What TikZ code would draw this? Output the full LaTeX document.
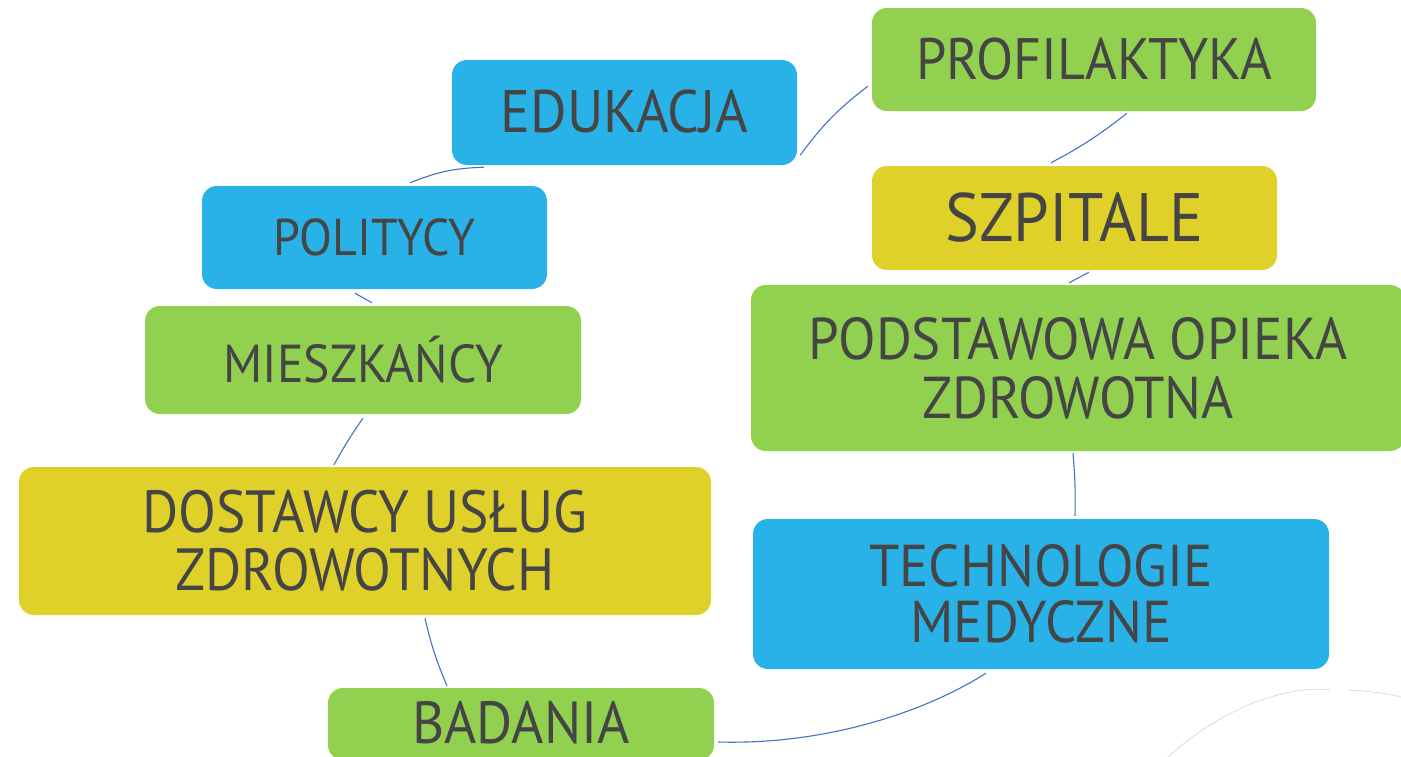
\documentclass[tikz,border=0pt]{standalone}
\usepackage{fontspec}
\setmainfont[FakeStretch=0.93]{PT Sans}
\usetikzlibrary{calc}
\definecolor{cyanbox}{HTML}{29B2E7}
\definecolor{greenbox}{HTML}{92D150}
\definecolor{yellowbox}{HTML}{E0D12A}
\definecolor{txt}{HTML}{454545}
\definecolor{conn}{HTML}{4472C4}
\definecolor{faint}{HTML}{DCDCDC}
\tikzset{
  box/.style={rounded corners=15pt, inner sep=0pt, align=center, text=txt},
  link/.style={draw=conn, line width=1.1pt},
}
\newcommand{\fs}[2]{\fontsize{#1}{#2}\selectfont}
\begin{document}
\begin{tikzpicture}[x=1pt,y=-1pt]
\useasboundingbox[fill=white] (0,0) rectangle (1401,756);
\node[box, fill=cyanbox, minimum width=345pt, minimum height=105pt, font=\fs{60}{59}] (edu) at (624.5,112.5) {\raisebox{2pt}{EDUKACJA}};
\node[box, fill=greenbox, minimum width=444pt, minimum height=103pt, font=\fs{58.4}{59}] (prof) at (1094,59.5) {PROFILAKTYKA};
\node[box, fill=cyanbox, minimum width=345pt, minimum height=103pt, font=\fs{51.7}{59}] (pol) at (374.5,237.5) {POLITYCY};
\node[box, fill=yellowbox, minimum width=405pt, minimum height=104pt, font=\fs{68.5}{59}] (szp) at (1074.5,218) {\raisebox{2pt}{SZPITALE}};
\node[box, fill=greenbox, minimum width=436pt, minimum height=108pt, font=\fs{53.4}{59}] (mie) at (363,360) {MIESZKAŃCY};
\node[box, fill=greenbox, minimum width=654pt, minimum height=166pt, font=\fs{59}{59}] (poz) at (1078,368) {PODSTAWOWA OPIEKA\\ZDROWOTNA};
\node[box, fill=yellowbox, minimum width=692pt, minimum height=148pt, font=\fs{59.5}{58}] (dost) at (365,541) {DOSTAWCY USŁUG\\ZDROWOTNYCH};
\node[box, fill=cyanbox, minimum width=576pt, minimum height=150pt, font=\fs{59}{56}] (tech) at (1041,594) {TECHNOLOGIE\\MEDYCZNE};
\node[box, fill=greenbox, minimum width=386pt, minimum height=72pt, font=\fs{59.4}{59}] (bad) at (521,724) {\raisebox{4pt}{BADANIA}};

\draw[link] ($(edu.south west)+(32,2)$) to[bend right=10] ($(pol.north)+(35.5,-3)$);
\draw[link] ($(edu.south east)+(3,-10)$) to[bend left=8] ($(prof.south west)+(-4,-25)$);
\draw[link] ($(prof.south)+(33,2)$) to[bend left=5] ($(szp.north)+(-23.5,-3)$);
\draw[link] ($(szp.south)+(14.5,2)$) -- ($(poz.north)+(-9,-2)$);
\draw[link] ($(poz.south)+(-5,2)$) to[bend left=3] ($(tech.north)+(34,-3)$);
\draw[link] ($(tech.south)+(-55,4)$) .. controls (920,715) and (820,745) .. ($(bad.east)+(4,18)$);
\draw[link] ($(dost.south)+(60,3)$) to[bend right=5] ($(bad.north)+(-74,-2)$);
\draw[link] ($(mie.south)+(0,4)$) to[bend right=3] ($(dost.north)+(-31,-2)$);
\draw[link] ($(pol.south)+(-19.5,4)$) -- ($(mie.north)+(9,-3)$);

\draw[faint, line width=0.8pt] (1168,757) .. controls (1225,705) and (1290,685) .. (1330,690);
\draw[faint, line width=0.8pt] (1348,690) .. controls (1370,691) and (1390,694) .. (1401,697);
\end{tikzpicture}
\end{document}
